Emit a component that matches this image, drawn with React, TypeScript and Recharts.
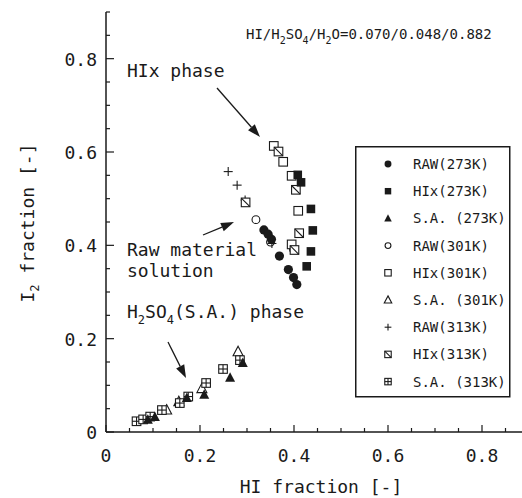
import React from 'react';
import { ScatterChart, Scatter, XAxis, YAxis, Legend } from 'recharts';

const ink = '#1a1a1a';
const mono = '"DejaVu Sans Mono", "Liberation Mono", monospace';

// [HI fraction, I2 fraction]
const raw273 = [[0.336, 0.433], [0.345, 0.424], [0.352, 0.413], [0.369, 0.377], [0.388, 0.348], [0.399, 0.331], [0.406, 0.316]];
const hix273 = [[0.408, 0.551], [0.415, 0.535], [0.436, 0.478], [0.440, 0.432], [0.436, 0.387], [0.427, 0.355]];
const sa273 = [[0.089, 0.026], [0.104, 0.032], [0.172, 0.073], [0.209, 0.080], [0.264, 0.116], [0.291, 0.148]];
const raw301 = [[0.319, 0.455], [0.350, 0.407], [0.399, 0.391]];
const hix301 = [[0.357, 0.613], [0.377, 0.579], [0.395, 0.549], [0.409, 0.474], [0.395, 0.402]];
const sa301 = [[0.129, 0.047], [0.155, 0.065], [0.204, 0.093], [0.281, 0.172]];
const raw313 = [[0.260, 0.558], [0.279, 0.529], [0.296, 0.497], [0.353, 0.404]];
const hix313 = [[0.367, 0.601], [0.404, 0.519], [0.411, 0.426], [0.401, 0.390], [0.297, 0.492]];
const sa313 = [[0.065, 0.023], [0.079, 0.027], [0.094, 0.033], [0.119, 0.047], [0.157, 0.062], [0.175, 0.076], [0.213, 0.105], [0.249, 0.135], [0.285, 0.154]];

const xTicks = [0, 0.05, 0.1, 0.15, 0.2, 0.25, 0.3, 0.35, 0.4, 0.45, 0.5, 0.55, 0.6, 0.65, 0.7, 0.75, 0.8, 0.85, 0.9];
const yTicks = [0, 0.05, 0.1, 0.15, 0.2, 0.25, 0.3, 0.35, 0.4, 0.45, 0.5, 0.55, 0.6, 0.65, 0.7, 0.75, 0.8, 0.85, 0.9];
const tickLabels = ['0', '0.2', '0.4', '0.6', '0.8'];

const series = [
  { name: 'RAW(273K)', data: raw273, kind: 'circleFilled' },
  { name: 'HIx(273K)', data: hix273, kind: 'squareFilled' },
  { name: 'S.A. (273K)', data: sa273, kind: 'triFilled' },
  { name: 'RAW(301K)', data: raw301, kind: 'circleOpen' },
  { name: 'HIx(301K)', data: hix301, kind: 'squareOpen' },
  { name: 'S.A. (301K)', data: sa301, kind: 'triOpen' },
  { name: 'RAW(313K)', data: raw313, kind: 'plus' },
  { name: 'HIx(313K)', data: hix313, kind: 'squareSlash' },
  { name: 'S.A. (313K)', data: sa313, kind: 'squarePlus' },
];

// open symbols first so the filled ones sit on top, like the original
const drawOrder = [3, 4, 5, 6, 7, 8, 0, 1, 2];

const toPoints = (arr: number[][]) => arr.map(([x, y]) => ({ x, y }));

const Marker = ({ cx, cy, kind, s = 1 }: any) => {
  if (cx == null || cy == null) return null;
  const h = 4.3 * s;
  const sw = 1.1;
  switch (kind) {
    case 'circleFilled':
      return <circle cx={cx} cy={cy} r={4.6 * s} fill={ink} />;
    case 'squareFilled':
      return <rect x={cx - h} y={cy - h} width={2 * h} height={2 * h} fill={ink} />;
    case 'triFilled':
      return <path d={`M${cx},${cy - 5.5 * s}L${cx + 5 * s},${cy + 4 * s}L${cx - 5 * s},${cy + 4 * s}Z`} fill={ink} />;
    case 'circleOpen':
      return <circle cx={cx} cy={cy} r={3.9 * s} fill="#fff" stroke={ink} strokeWidth={sw} />;
    case 'squareOpen':
      return <rect x={cx - h} y={cy - h} width={2 * h} height={2 * h} fill="#fff" stroke={ink} strokeWidth={sw} />;
    case 'triOpen':
      return <path d={`M${cx},${cy - 5.5 * s}L${cx + 5 * s},${cy + 4 * s}L${cx - 5 * s},${cy + 4 * s}Z`} fill="#fff" stroke={ink} strokeWidth={sw} />;
    case 'plus':
      return (
        <g stroke={ink} strokeWidth={sw}>
          <line x1={cx - 4.5 * s} x2={cx + 4.5 * s} y1={cy} y2={cy} />
          <line x1={cx} x2={cx} y1={cy - 4.5 * s} y2={cy + 4.5 * s} />
        </g>
      );
    case 'squareSlash':
      return (
        <g stroke={ink} strokeWidth={sw}>
          <rect x={cx - h} y={cy - h} width={2 * h} height={2 * h} fill="#fff" />
          <line x1={cx - h} y1={cy - h} x2={cx + h} y2={cy + h} />
        </g>
      );
    case 'squarePlus':
      return (
        <g stroke={ink} strokeWidth={sw}>
          <rect x={cx - h} y={cy - h} width={2 * h} height={2 * h} fill="#fff" />
          <line x1={cx - h} x2={cx + h} y1={cy} y2={cy} />
          <line x1={cx} x2={cx} y1={cy - h} y2={cy + h} />
        </g>
      );
    default:
      return null;
  }
};

const isMajor = (v: number) => Math.abs(v / 0.2 - Math.round(v / 0.2)) < 1e-6;
const labelFor = (v: number) => tickLabels[Math.round(v / 0.2)];

const BottomTick = ({ x, y, payload }: any) => {
  const v = payload.value;
  const major = isMajor(v);
  return (
    <g>
      <line x1={x} x2={x} y1={y} y2={y - (major ? 7 : 4)} stroke={ink} strokeWidth={1.2} />
      {major && (
        <text x={x} y={y + 30} textAnchor="middle" fontFamily={mono} fontSize={18} fill={ink}>
          {labelFor(v)}
        </text>
      )}
    </g>
  );
};

const TopTick = ({ x, y, payload }: any) => {
  const major = isMajor(payload.value);
  return <line x1={x} x2={x} y1={y} y2={y + (major ? 6 : 4)} stroke={ink} strokeWidth={1.2} />;
};

const LeftTick = ({ x, y, payload }: any) => {
  const v = payload.value;
  const major = isMajor(v);
  return (
    <g>
      <line x1={x} x2={x + (major ? 8 : 4)} y1={y} y2={y} stroke={ink} strokeWidth={1.2} />
      {major && (
        <text x={x - 9} y={y + 7} textAnchor="end" fontFamily={mono} fontSize={18} fill={ink}>
          {labelFor(v)}
        </text>
      )}
    </g>
  );
};

const LegendBox = () => (
  <svg width={156} height={252} style={{ display: 'block' }}>
    <rect x={0.75} y={0.75} width={154} height={250} fill="#fff" stroke={ink} strokeWidth={1.5} />
    {series.map((s, i) => {
      const cy = 18 + i * 27.2;
      return (
        <g key={s.name}>
          <Marker cx={33} cy={cy} kind={s.kind} s={0.75} />
          <text x={58} y={cy + 5} fontFamily={mono} fontSize={14} fill={ink}>
            {s.name}
          </text>
        </g>
      );
    })}
  </svg>
);

const Arrow = ({ x1, y1, x2, y2 }: { x1: number; y1: number; x2: number; y2: number }) => {
  const a = Math.atan2(y2 - y1, x2 - x1);
  const len = 13;
  const w = 4.5;
  const bx = x2 - len * Math.cos(a);
  const by = y2 - len * Math.sin(a);
  const px = -Math.sin(a) * w;
  const py = Math.cos(a) * w;
  return (
    <g>
      <line x1={x1} y1={y1} x2={bx} y2={by} stroke={ink} strokeWidth={1.3} />
      <path d={`M${x2},${y2}L${bx + px},${by + py}L${bx - px},${by - py}Z`} fill={ink} />
    </g>
  );
};

const App = () => {
  return (
    <div style={{ position: 'absolute', left: 0, top: 0, width: 522, height: 498, overflow: 'hidden', background: '#fff' }}>
      <ScatterChart width={540} height={498} margin={{ top: 12, right: 11, bottom: 36, left: 46 }}>
        <XAxis
          type="number"
          dataKey="x"
          domain={[0, 0.9]}
          ticks={xTicks}
          interval={0}
          height={30}
          tickSize={0}
          tickMargin={0}
          tickLine={false}
          tick={<BottomTick />}
          axisLine={{ stroke: ink, strokeWidth: 1.5 }}
          allowDataOverflow
        />
        <XAxis
          xAxisId="top"
          orientation="top"
          type="number"
          domain={[0, 0.9]}
          ticks={xTicks}
          interval={0}
          height={0}
          tickSize={0}
          tickMargin={0}
          tickLine={false}
          tick={<TopTick />}
          axisLine={{ stroke: ink, strokeWidth: 1.5 }}
          allowDataOverflow
        />
        <YAxis
          type="number"
          dataKey="y"
          domain={[0, 0.9]}
          ticks={yTicks}
          interval={0}
          width={60}
          tickSize={0}
          tickMargin={0}
          tickLine={false}
          tick={<LeftTick />}
          axisLine={{ stroke: ink, strokeWidth: 1.5 }}
          allowDataOverflow
        />
        <Legend
          layout="vertical"
          align="center"
          verticalAlign="middle"
          content={() => <LegendBox />}
          wrapperStyle={{ left: 355, top: 146, width: 156, height: 252 }}
        />
        {drawOrder.map((i) => {
          const s = series[i];
          return (
            <Scatter
              key={s.name}
              name={s.name}
              data={toPoints(s.data)}
              isAnimationActive={false}
              shape={(p: any) => <Marker cx={p.cx} cy={p.cy} kind={s.kind} />}
            />
          );
        })}
      </ScatterChart>
      <svg width={522} height={498} style={{ position: 'absolute', left: 0, top: 0, pointerEvents: 'none' }}>
        <g fontFamily={mono} fill={ink}>
          <text x={246} y={39} fontSize={14}>
            HI/H<tspan fontSize={10} dy={5}>2</tspan>
            <tspan dy={-5}>SO</tspan>
            <tspan fontSize={10} dy={5}>4</tspan>
            <tspan dy={-5}>/H</tspan>
            <tspan fontSize={10} dy={5}>2</tspan>
            <tspan dy={-5}>O=0.070/0.048/0.882</tspan>
          </text>
          <text x={127} y={77} fontSize={18}>HIx phase</text>
          <text x={127} y={256} fontSize={18}>Raw material</text>
          <text x={127} y={277} fontSize={18}>solution</text>
          <text x={127} y={318} fontSize={18}>
            H<tspan fontSize={12} dy={6}>2</tspan>
            <tspan dy={-6}>SO</tspan>
            <tspan fontSize={12} dy={6}>4</tspan>
            <tspan dy={-6}>(S.A.) phase</tspan>
          </text>
          <text x={321} y={493} fontSize={18} textAnchor="middle">HI fraction [-]</text>
          <text x={34} y={223} fontSize={18} textAnchor="middle" transform="rotate(-90 34 223)">
            I<tspan fontSize={12} dy={5}>2</tspan>
            <tspan dy={-5}> fraction [-]</tspan>
          </text>
        </g>
        <Arrow x1={217} y1={88} x2={260} y2={137} />
        <Arrow x1={203} y1={235} x2={234} y2={222} />
        <Arrow x1={168} y1={342} x2={186} y2={378} />
      </svg>
    </div>
  );
};

export default App;
